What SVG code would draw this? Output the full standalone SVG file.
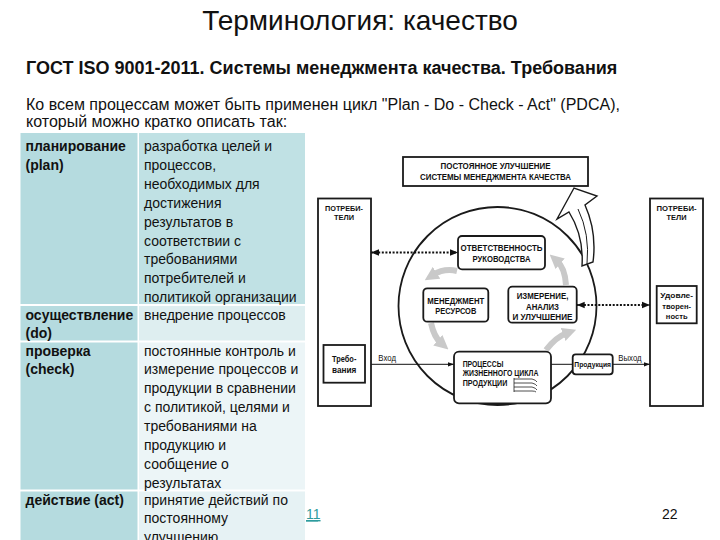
<svg xmlns="http://www.w3.org/2000/svg" width="720" height="540" viewBox="0 0 720 540">
<style>
  text { font-family: "Liberation Sans", Arial, sans-serif; fill: #111; }
  .title { font-size: 28px; }
  .sub { font-size: 18px; font-weight: bold; }
  .intro { font-size: 16px; }
  .tb { font-size: 14px; font-weight: bold; }
  .tr { font-size: 14px; }
  .cl { fill: #b5dbdf; }
  .box { fill: #fff; stroke: #1a1a1a; stroke-width: 1.8; }
  .dl { font-weight: bold; text-anchor: middle; }
  .lab { font-size: 8.5px; }
  .dot { stroke: #111; stroke-width: 2; stroke-dasharray: 2 1.6; fill: none; }
  .ln { stroke: #111; stroke-width: 1; fill: none; }
  .gray { stroke: #c9c9c9; stroke-width: 6; fill: none; }
</style>
<defs>
  <marker id="ah" viewBox="0 0 10 10" refX="10" refY="5" markerWidth="8" markerHeight="8" markerUnits="userSpaceOnUse" orient="auto-start-reverse">
    <path d="M0,1 L10,5 L0,9 z" fill="#111"/>
  </marker>
  <marker id="ahs" viewBox="0 0 10 10" refX="10" refY="5" markerWidth="6" markerHeight="6" markerUnits="userSpaceOnUse" orient="auto">
    <path d="M0,1.5 L10,5 L0,8.5 z" fill="#111"/>
  </marker>
  <marker id="gh" viewBox="0 0 10 10" refX="3" refY="5" markerWidth="14" markerHeight="14" markerUnits="userSpaceOnUse" orient="auto">
    <path d="M0,0 L10,5 L0,10 z" fill="#c9c9c9"/>
  </marker>
</defs>

<!-- headings -->
<text class="title" x="360" y="30" text-anchor="middle">Терминология: качество</text>
<text class="sub" x="26" y="74">ГОСТ ISO 9001-2011. Системы менеджмента качества. Требования</text>
<text class="intro" x="26" y="110">Ко всем процессам может быть применен цикл "Plan - Do - Check - Act" (PDCA),</text>
<text class="intro" x="26" y="127">который можно кратко описать так:</text>

<!-- table -->
<g id="table">
  <rect class="cl" x="20.5" y="133" width="117" height="171"/>
  <rect x="139" y="133" width="166" height="171" fill="#c0e1e4"/>
  <rect class="cl" x="20.5" y="306" width="117" height="34.5"/>
  <rect x="139" y="306" width="166" height="34.5" fill="#deeef0"/>
  <rect class="cl" x="20.5" y="342.5" width="117" height="147"/>
  <rect x="139" y="342.5" width="166" height="147" fill="#ecf5f7"/>
  <rect class="cl" x="20.5" y="491.5" width="117" height="49"/>
  <rect x="139" y="491.5" width="166" height="49" fill="#e6f2f4"/>

  <text class="tb" x="25.5" y="151">планирование</text>
  <text class="tb" x="25.5" y="170">(plan)</text>
  <text class="tr" x="144">
    <tspan x="144" y="151">разработка целей и</tspan>
    <tspan x="144" y="169.9">процессов,</tspan>
    <tspan x="144" y="188.8">необходимых для</tspan>
    <tspan x="144" y="207.7">достижения</tspan>
    <tspan x="144" y="226.6">результатов в</tspan>
    <tspan x="144" y="245.5">соответствии с</tspan>
    <tspan x="144" y="264.4">требованиями</tspan>
    <tspan x="144" y="283.3">потребителей и</tspan>
    <tspan x="144" y="302.2">политикой организации</tspan>
  </text>

  <text class="tb" x="25.5" y="319.5">осуществление</text>
  <text class="tb" x="25.5" y="338.4">(do)</text>
  <text class="tr" x="144" y="319.5">внедрение процессов</text>

  <text class="tb" x="25.5" y="355.5">проверка</text>
  <text class="tb" x="25.5" y="374.4">(check)</text>
  <text class="tr" x="144">
    <tspan x="144" y="355.5">постоянные контроль и</tspan>
    <tspan x="144" y="374.4">измерение процессов и</tspan>
    <tspan x="144" y="393.3">продукции в сравнении</tspan>
    <tspan x="144" y="412.2">с политикой, целями и</tspan>
    <tspan x="144" y="431.1">требованиями на</tspan>
    <tspan x="144" y="450">продукцию и</tspan>
    <tspan x="144" y="468.9">сообщение о</tspan>
    <tspan x="144" y="487.8">результатах</tspan>
  </text>

  <text class="tb" x="25.5" y="504.5">действие (act)</text>
  <text class="tr" x="144">
    <tspan x="144" y="504.5">принятие действий по</tspan>
    <tspan x="144" y="523.4">постоянному</tspan>
    <tspan x="144" y="542.3">улучшению</tspan>
  </text>
</g>

<!-- footer -->
<text x="306" y="519" font-size="14" style="fill:#2f9c9e" text-decoration="underline">11</text>
<line x1="306" y1="521" x2="318" y2="521" stroke="#2f9c9e" stroke-width="1"/>
<text x="662" y="519" font-size="14">22</text>

<!-- diagram -->
<circle cx="497.5" cy="306" r="99" fill="none" stroke="#1a1a1a" stroke-width="1.8"/>

<g id="connectors">
  <line class="dot" x1="371" y1="252.5" x2="458" y2="252.5" marker-start="url(#ah)" marker-end="url(#ah)"/>
  <line class="dot" x1="576.7" y1="305" x2="650" y2="305" marker-start="url(#ah)" marker-end="url(#ah)"/>
  <line class="ln" x1="365" y1="364.3" x2="454" y2="364.3" marker-end="url(#ahs)"/>
  <line class="ln" x1="551" y1="364.3" x2="572.7" y2="364.3"/>
  <line class="ln" x1="612.7" y1="364.3" x2="650" y2="364.3" marker-end="url(#ahs)"/>
  <path class="gray" d="M457,271 Q444,268 433,275" marker-end="url(#gh)"/>
  <path class="gray" d="M431,323 Q434,337 441,343" marker-end="url(#gh)"/>
  <path class="gray" d="M546,350 Q556,337 567,333" marker-end="url(#gh)"/>
  <path class="gray" d="M566,285 Q565,268 557,261" marker-end="url(#gh)"/>
  <path d="M582,266 Q584,236 569,212 L557,219 L574,188 L597,196 L585,205 Q597,232 593,262 Z" fill="#fff" stroke="#1a1a1a" stroke-width="1.4"/>
  <path d="M587,264 Q590,234 578,209" fill="none" stroke="#1a1a1a" stroke-width="1"/>
  <text class="lab" x="378.3" y="361.3" textLength="17.7" lengthAdjust="spacingAndGlyphs">Вход</text>
  <text class="lab" x="618.3" y="361.3" textLength="23.3" lengthAdjust="spacingAndGlyphs">Выход</text>
</g>

<g id="improvement">
  <rect class="box" x="403" y="157" width="185" height="29" stroke-width="2"/>
  <text class="dl" font-size="8.5" x="495.5" y="168.8" textLength="110" lengthAdjust="spacingAndGlyphs">ПОСТОЯННОЕ УЛУЧШЕНИЕ</text>
  <text class="dl" font-size="8.5" x="495.5" y="180.1" textLength="151" lengthAdjust="spacingAndGlyphs">СИСТЕМЫ МЕНЕДЖМЕНТА КАЧЕСТВА</text>
</g>

<g id="customers-in">
  <rect class="box" x="318" y="198.5" width="53" height="207.5"/>
  <text class="dl" font-size="8" x="344" y="210.8" textLength="38" lengthAdjust="spacingAndGlyphs">ПОТРЕБИ-</text>
  <text class="dl" font-size="8" x="344" y="220.3" textLength="20" lengthAdjust="spacingAndGlyphs">ТЕЛИ</text>
</g>
<g id="requirements">
  <rect class="box" x="323.5" y="345" width="41.5" height="37.7" stroke-width="1.6"/>
  <text class="dl" font-size="8.5" x="344.2" y="362.3" textLength="24.3" lengthAdjust="spacingAndGlyphs">Требо-</text>
  <text class="dl" font-size="8.5" x="344.2" y="372.5" textLength="24.3" lengthAdjust="spacingAndGlyphs">вания</text>
</g>

<g id="customers-out">
  <rect class="box" x="650" y="198.5" width="53" height="207.5"/>
  <text class="dl" font-size="8" x="676.5" y="210.8" textLength="40" lengthAdjust="spacingAndGlyphs">ПОТРЕБИ-</text>
  <text class="dl" font-size="8" x="676.5" y="220.3" textLength="20" lengthAdjust="spacingAndGlyphs">ТЕЛИ</text>
</g>
<g id="satisfaction">
  <rect class="box" x="656.7" y="286" width="40" height="37.3" stroke-width="1.6"/>
  <text class="dl" font-size="8" x="676.7" y="298" textLength="32.7" lengthAdjust="spacingAndGlyphs">Удовле-</text>
  <text class="dl" font-size="8" x="676.7" y="308.6" textLength="28.7" lengthAdjust="spacingAndGlyphs">творен-</text>
  <text class="dl" font-size="8" x="676.7" y="319" textLength="21.7" lengthAdjust="spacingAndGlyphs">ность</text>
</g>

<g id="management">
  <rect class="box" x="458" y="236" width="87" height="33.3" rx="4"/>
  <text class="dl" font-size="9.5" x="501.5" y="250.7" textLength="82" lengthAdjust="spacingAndGlyphs">ОТВЕТСТВЕННОСТЬ</text>
  <text class="dl" font-size="9.5" x="501.5" y="261.7" textLength="58" lengthAdjust="spacingAndGlyphs">РУКОВОДСТВА</text>
</g>

<g id="resources">
  <rect class="box" x="423.3" y="288.3" width="65" height="33.4" rx="4"/>
  <text class="dl" font-size="9.5" x="455.8" y="304.1" textLength="57" lengthAdjust="spacingAndGlyphs">МЕНЕДЖМЕНТ</text>
  <text class="dl" font-size="9.5" x="455.8" y="314.1" textLength="41" lengthAdjust="spacingAndGlyphs">РЕСУРСОВ</text>
</g>

<g id="measurement">
  <rect class="box" x="508.3" y="286.7" width="68.4" height="36" rx="4"/>
  <text class="dl" font-size="9.5" x="542.5" y="299.4" textLength="51.7" lengthAdjust="spacingAndGlyphs">ИЗМЕРЕНИЕ,</text>
  <text class="dl" font-size="9.5" x="542.5" y="310.1" textLength="33" lengthAdjust="spacingAndGlyphs">АНАЛИЗ</text>
  <text class="dl" font-size="9.5" x="542.5" y="320.1" textLength="60" lengthAdjust="spacingAndGlyphs">И УЛУЧШЕНИЕ</text>
</g>

<g id="processes">
  <rect class="box" x="454" y="351.7" width="97" height="51.6" rx="5"/>
  <text font-weight="bold" font-size="9" x="462.7" y="366.5" textLength="40.7" lengthAdjust="spacingAndGlyphs">ПРОЦЕССЫ</text>
  <text font-weight="bold" font-size="9" x="462.7" y="376.2" textLength="75.7" lengthAdjust="spacingAndGlyphs">ЖИЗНЕННОГО ЦИКЛА</text>
  <text font-weight="bold" font-size="9" x="462.7" y="385.5" textLength="44.7" lengthAdjust="spacingAndGlyphs">ПРОДУКЦИИ</text>
  <g fill="none" stroke="#222" stroke-width="0.8">
    <path d="M514,379 L532,379 Q536,380 537,382"/>
    <path d="M514,383 L532,383 Q536,384 537,386"/>
    <path d="M514,387 L532,387 Q536,388 537,390"/>
    <path d="M514,391 L532,391 Q535,391 536,392"/>
    <path d="M514,378 L514,392"/>
  </g>
</g>

<g id="product">
  <rect class="box" x="572.7" y="354.3" width="40" height="20" rx="3" stroke-width="1.5"/>
  <text class="dl" font-size="7.5" x="592.7" y="367" textLength="36.7" lengthAdjust="spacingAndGlyphs">Продукция</text>
</g>
</svg>
